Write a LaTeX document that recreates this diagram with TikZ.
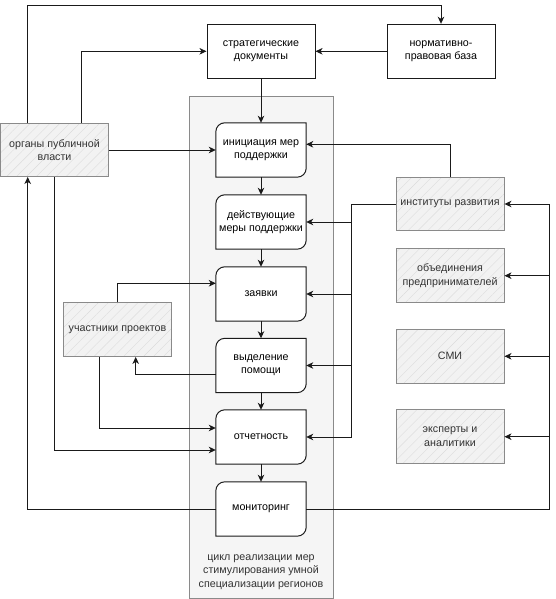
\documentclass[tikz,border=0pt]{standalone}
\usepackage{fontspec}
\setmainfont{Liberation Sans}
\usetikzlibrary{arrows.meta,patterns.meta,calc}
\definecolor{txtgray}{HTML}{333333}
\definecolor{contfill}{HTML}{F5F5F5}
\definecolor{contline}{HTML}{8A8A8A}
\definecolor{hatchfill}{HTML}{F2F2F2}
\definecolor{hatchline}{HTML}{DCDCDC}
\definecolor{lineblack}{HTML}{1A1A1A}
\pgfdeclarelayer{back}
\pgfdeclarelayer{mid}
\pgfsetlayers{back,mid,main}
\newcommand\procframe[1]{\draw[line width=1pt, draw=lineblack, fill=white]
  ([yshift=-9pt]#1.north west) arc[start angle=180,end angle=90,radius=9pt]
  -- (#1.north east) -- ([yshift=9pt]#1.south east)
  arc[start angle=0,end angle=-90,radius=9pt] -- (#1.south west) -- cycle;}
\begin{document}
\begin{tikzpicture}[x=1pt,y=1pt,
  base/.style={inner sep=0pt, align=center, font=\fontsize{10.7}{13.3}\selectfont},
  plainbox/.style={base, draw=lineblack, line width=1pt, fill=white, minimum width=108pt, minimum height=54pt, text=black},
  hatchbox/.style={base, draw=contline, line width=0.9pt, preaction={fill=hatchfill},
    pattern={Lines[angle=45,distance=7pt,line width=0.4pt]}, pattern color=hatchline,
    minimum width=108pt, minimum height=53.5pt, text=txtgray},
  procbox/.style={base, minimum width=90pt, minimum height=54pt, text=black},
  conn/.style={draw=lineblack, line width=0.95pt},
  arr/.style={conn, -{Stealth[length=7pt,width=6.5pt,inset=2pt]}},
]
\useasboundingbox (0,0) rectangle (556,599);

\begin{pgfonlayer}{back}
\node[draw=contline, line width=0.9pt, fill=contfill, minimum width=143.7pt, minimum height=501.3pt, inner sep=0pt] (cont) at (261.15,251.65) {};
\end{pgfonlayer}
\node[base, text=txtgray] (contlabel) at (261,27) {цикл реализации мер\\стимулирования умной\\специализации регионов};

% plain boxes
\node[plainbox] (strat) at (261,547.7) {стратегические\\документы};
\node[plainbox] (norm) at (441,547.7) {нормативно-\\правовая база};

% hatched boxes
\node[hatchbox] (org) at (54.5,449) {органы публичной\\власти};
\node[hatchbox] (part) at (117.5,269.3) {участники проектов};
\node[hatchbox] (inst) at (450,395) {институты развития};
\node[hatchbox] (assoc) at (450,323.3) {объединения\\предпринимателей};
\node[hatchbox] (media) at (450,242.7) {СМИ};
\node[hatchbox] (exp) at (450,162.3) {эксперты и\\аналитики};

% process boxes
\node[procbox] (init) at (261,449) {инициация мер\\поддержки};
\node[procbox] (act) at (261,377) {действующие\\меры поддержки};
\node[procbox] (app) at (261,305) {заявки};
\node[procbox] (alloc) at (261,233.5) {выделение\\помощи};
\node[procbox] (rep) at (261,162) {отчетность};
\node[procbox] (mon) at (261,90) {мониторинг};
\begin{pgfonlayer}{mid}
\procframe{init}
\procframe{act}
\procframe{app}
\procframe{alloc}
\procframe{rep}
\procframe{mon}
\end{pgfonlayer}

% connectors
\draw[arr] ([xshift=-26.8pt]org.north) |- ([yshift=18.3pt]norm.north) -- (norm.north);
\draw[arr] ([xshift=27.2pt]org.north) |- (strat.west);
\draw[arr] (norm.west) -- (strat.east);
\draw[arr] (strat.south) -- (init.north);
\draw[arr] (org.east) -- (init.west);
\draw[arr] (inst.north) |- ([yshift=5.7pt]init.east);

\draw[arr] (init.south) -- (act.north);
\draw[arr] (act.south) -- (app.north);
\draw[arr] (app.south) -- (alloc.north);
\draw[arr] (alloc.south) -- (rep.north);
\draw[arr] (rep.south) -- (mon.north);

\coordinate (busL) at (351.7,162);
\draw[arr] (inst.west) -| (busL) -- (rep.east);
\draw[arr] (busL |- act.east) -- (act.east);
\draw[arr] (busL |- app.east) -- (app.east);
\draw[arr] (busL |- alloc.east) -- (alloc.east);

\draw[arr] (part.north) |- ([yshift=10.7pt]app.west);
\draw[arr] ([yshift=-8.8pt]alloc.west) -| ([xshift=18.2pt]part.south);
\draw[arr] ([xshift=-17.8pt]part.south) |- ([yshift=9pt]rep.west);
\draw[arr] (org.south) |- ([yshift=-13pt]rep.west);
\draw[arr] (mon.west) -| ([xshift=-26.8pt]org.south);

\coordinate (busR) at (549,395);
\draw[arr] (mon.east) -| (busR) -- (inst.east);
\draw[arr] (busR |- assoc.east) -- (assoc.east);
\draw[arr] (busR |- media.east) -- (media.east);
\draw[arr] (busR |- exp.east) -- (exp.east);
\end{tikzpicture}
\end{document}
